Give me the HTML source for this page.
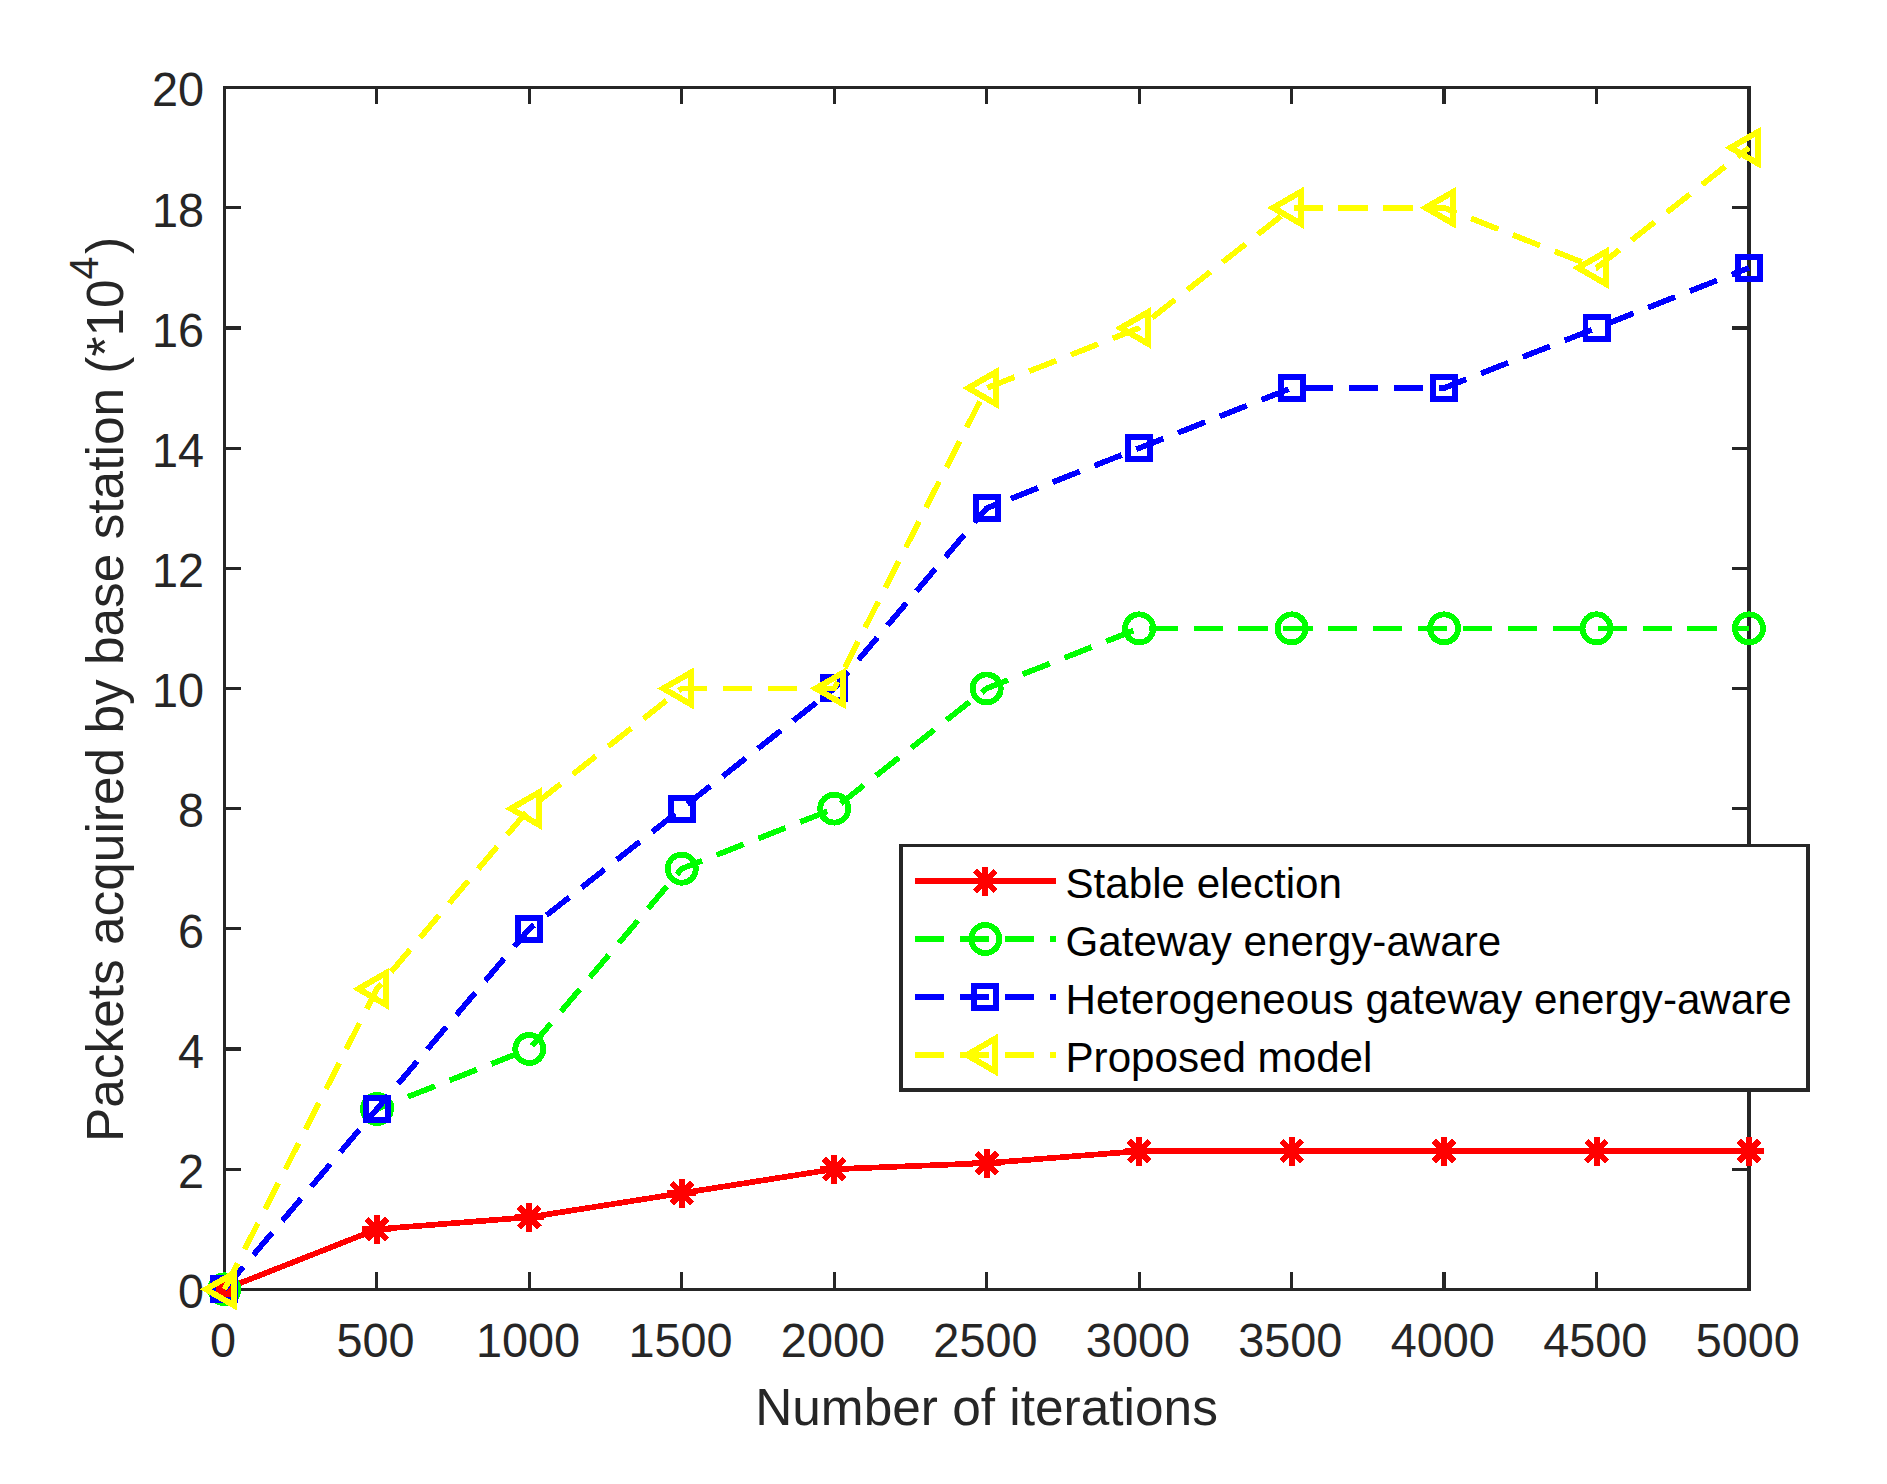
<!DOCTYPE html>
<html lang="en"><head><meta charset="utf-8"><title>Packets acquired by base station</title>
<style>html,body{margin:0;padding:0;background:#fff}svg{display:block}text{font-family:"Liberation Sans",Arial,Helvetica,sans-serif}</style></head><body>
<svg width="1887" height="1484" viewBox="0 0 1887 1484">
<rect width="1887" height="1484" fill="#fff"/>
<g fill="#262626" shape-rendering="crispEdges">
<rect x="223" y="86" width="1528" height="3"/>
<rect x="223" y="1288" width="1528" height="3"/>
<rect x="223" y="86" width="3" height="1205"/>
<rect x="1747" y="86" width="4" height="1205"/>
<rect x="375" y="1272" width="3" height="16"/>
<rect x="375" y="89" width="3" height="15"/>
<rect x="528" y="1272" width="3" height="16"/>
<rect x="528" y="89" width="3" height="15"/>
<rect x="680" y="1272" width="3" height="16"/>
<rect x="680" y="89" width="3" height="15"/>
<rect x="833" y="1272" width="3" height="16"/>
<rect x="833" y="89" width="3" height="15"/>
<rect x="985" y="1272" width="3" height="16"/>
<rect x="985" y="89" width="3" height="15"/>
<rect x="1138" y="1272" width="3" height="16"/>
<rect x="1138" y="89" width="3" height="15"/>
<rect x="1290" y="1272" width="3" height="16"/>
<rect x="1290" y="89" width="3" height="15"/>
<rect x="1442" y="1272" width="4" height="16"/>
<rect x="1442" y="89" width="4" height="15"/>
<rect x="1595" y="1272" width="3" height="16"/>
<rect x="1595" y="89" width="3" height="15"/>
<rect x="226" y="1168" width="15" height="3"/>
<rect x="1732" y="1168" width="15" height="3"/>
<rect x="226" y="1047" width="15" height="4"/>
<rect x="1732" y="1047" width="15" height="4"/>
<rect x="226" y="927" width="15" height="3"/>
<rect x="1732" y="927" width="15" height="3"/>
<rect x="226" y="807" width="15" height="3"/>
<rect x="1732" y="807" width="15" height="3"/>
<rect x="226" y="687" width="15" height="3"/>
<rect x="1732" y="687" width="15" height="3"/>
<rect x="226" y="567" width="15" height="3"/>
<rect x="1732" y="567" width="15" height="3"/>
<rect x="226" y="447" width="15" height="3"/>
<rect x="1732" y="447" width="15" height="3"/>
<rect x="226" y="326" width="15" height="4"/>
<rect x="1732" y="326" width="15" height="4"/>
<rect x="226" y="206" width="15" height="3"/>
<rect x="1732" y="206" width="15" height="3"/>
</g>
<g fill="#262626" font-size="46.8">
<text transform="translate(223.1 1357.3) scale(1 1.04)" text-anchor="middle">0</text>
<text transform="translate(375.6 1357.3) scale(1 1.04)" text-anchor="middle">500</text>
<text transform="translate(528.0 1357.3) scale(1 1.04)" text-anchor="middle">1000</text>
<text transform="translate(680.5 1357.3) scale(1 1.04)" text-anchor="middle">1500</text>
<text transform="translate(832.9 1357.3) scale(1 1.04)" text-anchor="middle">2000</text>
<text transform="translate(985.4 1357.3) scale(1 1.04)" text-anchor="middle">2500</text>
<text transform="translate(1137.9 1357.3) scale(1 1.04)" text-anchor="middle">3000</text>
<text transform="translate(1290.3 1357.3) scale(1 1.04)" text-anchor="middle">3500</text>
<text transform="translate(1442.8 1357.3) scale(1 1.04)" text-anchor="middle">4000</text>
<text transform="translate(1595.2 1357.3) scale(1 1.04)" text-anchor="middle">4500</text>
<text transform="translate(1747.7 1357.3) scale(1 1.04)" text-anchor="middle">5000</text>
<text transform="translate(204.1 1308.0) scale(1 1.04)" text-anchor="end">0</text>
<text transform="translate(204.1 1187.8) scale(1 1.04)" text-anchor="end">2</text>
<text transform="translate(204.1 1067.7) scale(1 1.04)" text-anchor="end">4</text>
<text transform="translate(204.1 947.5) scale(1 1.04)" text-anchor="end">6</text>
<text transform="translate(204.1 827.3) scale(1 1.04)" text-anchor="end">8</text>
<text transform="translate(204.1 707.1) scale(1 1.04)" text-anchor="end">10</text>
<text transform="translate(204.1 587.0) scale(1 1.04)" text-anchor="end">12</text>
<text transform="translate(204.1 466.8) scale(1 1.04)" text-anchor="end">14</text>
<text transform="translate(204.1 346.6) scale(1 1.04)" text-anchor="end">16</text>
<text transform="translate(204.1 226.5) scale(1 1.04)" text-anchor="end">18</text>
<text transform="translate(204.1 106.3) scale(1 1.04)" text-anchor="end">20</text>
</g>
<g fill="#262626" font-size="51.4">
<text x="986.5" y="1424.5" text-anchor="middle">Number of iterations</text>
<text transform="translate(123 689.5) rotate(-90)" text-anchor="middle">Packets acquired by base station (*10<tspan dy="-25.5" font-size="41.1">4</tspan><tspan dy="25.5" dx="2.5">)</tspan></text>
</g>
<g stroke="#ff0000" fill="none" stroke-linejoin="miter" stroke-miterlimit="10" shape-rendering="crispEdges">
<polyline points="224.40,1289.30 376.86,1229.21 529.32,1217.20 681.78,1193.16 834.24,1169.13 986.70,1163.12 1139.16,1151.10 1291.62,1151.10 1444.08,1151.10 1596.54,1151.10 1749.00,1151.10" stroke-width="5.7"/>
<g stroke-width="6.0"><path d="M209.90 1289.30H238.90M224.40 1274.80V1303.80M214.15 1279.05L234.65 1299.55M214.15 1299.55L234.65 1279.05"/><path d="M362.36 1229.21H391.36M376.86 1214.71V1243.71M366.61 1218.96L387.11 1239.47M366.61 1239.47L387.11 1218.96"/><path d="M514.82 1217.20H543.82M529.32 1202.70V1231.70M519.07 1206.94L539.57 1227.45M519.07 1227.45L539.57 1206.94"/><path d="M667.28 1193.16H696.28M681.78 1178.66V1207.66M671.53 1182.91L692.03 1203.42M671.53 1203.42L692.03 1182.91"/><path d="M819.74 1169.13H848.74M834.24 1154.63V1183.63M823.99 1158.88L844.49 1179.38M823.99 1179.38L844.49 1158.88"/><path d="M972.20 1163.12H1001.20M986.70 1148.62V1177.62M976.45 1152.87L996.95 1173.37M976.45 1173.37L996.95 1152.87"/><path d="M1124.66 1151.10H1153.66M1139.16 1136.60V1165.60M1128.91 1140.85L1149.41 1161.36M1128.91 1161.36L1149.41 1140.85"/><path d="M1277.12 1151.10H1306.12M1291.62 1136.60V1165.60M1281.37 1140.85L1301.87 1161.36M1281.37 1161.36L1301.87 1140.85"/><path d="M1429.58 1151.10H1458.58M1444.08 1136.60V1165.60M1433.83 1140.85L1454.33 1161.36M1433.83 1161.36L1454.33 1140.85"/><path d="M1582.04 1151.10H1611.04M1596.54 1136.60V1165.60M1586.29 1140.85L1606.79 1161.36M1586.29 1161.36L1606.79 1140.85"/><path d="M1734.50 1151.10H1763.50M1749.00 1136.60V1165.60M1738.75 1140.85L1759.25 1161.36M1738.75 1161.36L1759.25 1140.85"/></g>
</g>
<g stroke="#00ff00" fill="none" stroke-linejoin="miter" stroke-miterlimit="10" shape-rendering="crispEdges">
<polyline points="224.40,1289.30 376.86,1109.04 529.32,1048.96 681.78,868.70 834.24,808.62 986.70,688.45 1139.16,628.36 1291.62,628.36 1444.08,628.36 1596.54,628.36 1749.00,628.36" stroke-width="5.7" stroke-dasharray="29.2 15.7"/>
<g stroke-width="5.9"><circle cx="224.40" cy="1289.30" r="14"/><circle cx="376.86" cy="1109.04" r="14"/><circle cx="529.32" cy="1048.96" r="14"/><circle cx="681.78" cy="868.70" r="14"/><circle cx="834.24" cy="808.62" r="14"/><circle cx="986.70" cy="688.45" r="14"/><circle cx="1139.16" cy="628.36" r="14"/><circle cx="1291.62" cy="628.36" r="14"/><circle cx="1444.08" cy="628.36" r="14"/><circle cx="1596.54" cy="628.36" r="14"/><circle cx="1749.00" cy="628.36" r="14"/></g>
</g>
<g stroke="#0000ff" fill="none" stroke-linejoin="miter" stroke-miterlimit="10" shape-rendering="crispEdges">
<polyline points="224.40,1289.30 376.86,1109.04 529.32,928.79 681.78,808.62 834.24,688.45 986.70,508.19 1139.16,448.11 1291.62,388.02 1444.08,388.02 1596.54,327.94 1749.00,267.85" stroke-width="5.7" stroke-dasharray="29.2 15.7"/>
<g stroke-width="5.9"><rect x="213.35" y="1278.25" width="22.1" height="22.1"/><rect x="365.81" y="1097.99" width="22.1" height="22.1"/><rect x="518.27" y="917.74" width="22.1" height="22.1"/><rect x="670.73" y="797.57" width="22.1" height="22.1"/><rect x="823.19" y="677.40" width="22.1" height="22.1"/><rect x="975.65" y="497.14" width="22.1" height="22.1"/><rect x="1128.11" y="437.06" width="22.1" height="22.1"/><rect x="1280.57" y="376.97" width="22.1" height="22.1"/><rect x="1433.03" y="376.97" width="22.1" height="22.1"/><rect x="1585.49" y="316.89" width="22.1" height="22.1"/><rect x="1737.95" y="256.80" width="22.1" height="22.1"/></g>
</g>
<g stroke="#ffff00" fill="none" stroke-linejoin="miter" stroke-miterlimit="10" shape-rendering="crispEdges">
<polyline points="224.40,1289.30 376.86,988.88 529.32,808.62 681.78,688.45 834.24,688.45 986.70,388.02 1139.16,327.94 1291.62,207.77 1444.08,207.77 1596.54,267.85 1749.00,147.68" stroke-width="5.7" stroke-dasharray="29.2 15.7"/>
<g stroke-width="6.0"><path d="M206.00 1289.30L233.60 1273.37V1305.23Z"/><path d="M358.46 988.88L386.06 972.94V1004.81Z"/><path d="M510.92 808.62L538.52 792.69V824.55Z"/><path d="M663.38 688.45L690.98 672.52V704.38Z"/><path d="M815.84 688.45L843.44 672.52V704.38Z"/><path d="M968.30 388.02L995.90 372.09V403.96Z"/><path d="M1120.76 327.94L1148.36 312.01V343.87Z"/><path d="M1273.22 207.77L1300.82 191.84V223.70Z"/><path d="M1425.68 207.77L1453.28 191.84V223.70Z"/><path d="M1578.14 267.85L1605.74 251.92V283.79Z"/><path d="M1730.60 147.68L1758.20 131.75V163.62Z"/></g>
</g>
<rect x="899" y="844" width="911" height="248" fill="#262626" shape-rendering="crispEdges"/>
<rect x="903" y="847" width="903" height="241" fill="#fff" shape-rendering="crispEdges"/>
<g stroke="#ff0000" fill="none" stroke-width="6.0" stroke-miterlimit="10" shape-rendering="crispEdges">
<path d="M915 881H1056" stroke-width="5.7"/>
<path d="M970.80 881.00H999.80M985.30 866.50V895.50M975.05 870.75L995.55 891.25M975.05 891.25L995.55 870.75"/>
</g>
<text x="1065.5" y="898.2" font-size="42.15" fill="#000">Stable election</text>
<g stroke="#00ff00" fill="none" stroke-width="5.9" stroke-miterlimit="10" shape-rendering="crispEdges">
<path d="M915 939H1056" stroke-width="5.7" stroke-dasharray="29.2 15.7"/>
<circle cx="985.30" cy="939.00" r="14"/>
</g>
<text x="1065.5" y="956.2" font-size="42.15" fill="#000">Gateway energy-aware</text>
<g stroke="#0000ff" fill="none" stroke-width="5.9" stroke-miterlimit="10" shape-rendering="crispEdges">
<path d="M915 997H1056" stroke-width="5.7" stroke-dasharray="29.2 15.7"/>
<rect x="974.25" y="985.95" width="22.1" height="22.1"/>
</g>
<text x="1065.5" y="1014.2" font-size="42.15" fill="#000">Heterogeneous gateway energy-aware</text>
<g stroke="#ffff00" fill="none" stroke-width="6.0" stroke-miterlimit="10" shape-rendering="crispEdges">
<path d="M915 1055H1056" stroke-width="5.7" stroke-dasharray="29.2 15.7"/>
<path d="M966.90 1055.00L994.50 1039.07V1070.93Z"/>
</g>
<text x="1065.5" y="1072.2" font-size="42.15" fill="#000">Proposed model</text>
</svg></body></html>
